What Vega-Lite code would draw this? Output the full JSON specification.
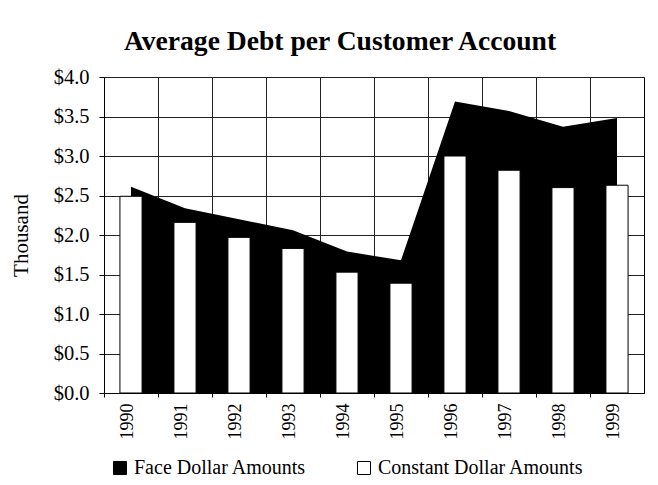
{
  "$schema": "https://vega.github.io/schema/vega-lite/v6.json",
  "autosize": {"type": "none"},
  "padding": {"left": 104, "top": 77, "right": 14, "bottom": 92},
  "width": 540,
  "height": 316,
  "background": "white",
  "title": {
    "text": "Average Debt per Customer Account",
    "font": "Liberation Serif",
    "fontSize": 27.6,
    "fontWeight": "bold",
    "color": "black",
    "anchor": "middle",
    "frame": "group",
    "dx": -34,
    "offset": 11
  },
  "data": {
    "values": [
      {"year": "1990", "series": "Face Dollar Amounts", "value": 2.61},
      {"year": "1991", "series": "Face Dollar Amounts", "value": 2.34},
      {"year": "1992", "series": "Face Dollar Amounts", "value": 2.20},
      {"year": "1993", "series": "Face Dollar Amounts", "value": 2.06},
      {"year": "1994", "series": "Face Dollar Amounts", "value": 1.79},
      {"year": "1995", "series": "Face Dollar Amounts", "value": 1.68},
      {"year": "1996", "series": "Face Dollar Amounts", "value": 3.69},
      {"year": "1997", "series": "Face Dollar Amounts", "value": 3.57},
      {"year": "1998", "series": "Face Dollar Amounts", "value": 3.37},
      {"year": "1999", "series": "Face Dollar Amounts", "value": 3.48},
      {"year": "1990", "series": "Constant Dollar Amounts", "value": 2.49},
      {"year": "1991", "series": "Constant Dollar Amounts", "value": 2.16},
      {"year": "1992", "series": "Constant Dollar Amounts", "value": 1.97},
      {"year": "1993", "series": "Constant Dollar Amounts", "value": 1.83},
      {"year": "1994", "series": "Constant Dollar Amounts", "value": 1.53},
      {"year": "1995", "series": "Constant Dollar Amounts", "value": 1.39},
      {"year": "1996", "series": "Constant Dollar Amounts", "value": 3.00},
      {"year": "1997", "series": "Constant Dollar Amounts", "value": 2.82},
      {"year": "1998", "series": "Constant Dollar Amounts", "value": 2.60},
      {"year": "1999", "series": "Constant Dollar Amounts", "value": 2.63}
    ]
  },
  "encoding": {
    "x": {
      "field": "year",
      "type": "ordinal",
      "scale": {"paddingInner": 0, "paddingOuter": 0},
      "axis": {
        "title": null,
        "bandPosition": 0,
        "labelOffset": -3,
        "labelAngle": 270,
        "labelFont": "Liberation Serif",
        "labelFontSize": 18,
        "labelColor": "black",
        "labelPadding": 6,
        "tickSize": 4,
        "tickColor": "black",
        "domainColor": "black",
        "grid": true,
        "gridColor": "#222",
        "gridWidth": 1
      }
    },
    "y": {
      "field": "value",
      "type": "quantitative",
      "scale": {"domain": [0, 4], "nice": false},
      "axis": {
        "title": "Thousand",
        "titleFont": "Liberation Serif",
        "titleFontSize": 21,
        "titleFontWeight": "normal",
        "titleColor": "black",
        "titlePadding": 22,
        "values": [0, 0.5, 1, 1.5, 2, 2.5, 3, 3.5, 4],
        "format": "$.1f",
        "labelFont": "Liberation Serif",
        "labelFontSize": 20.5,
        "labelColor": "black",
        "labelPadding": 10,
        "tickSize": 5,
        "tickColor": "black",
        "domainColor": "black",
        "grid": true,
        "gridColor": "#222",
        "gridWidth": 1
      }
    },
    "color": {
      "field": "series",
      "type": "nominal",
      "scale": {"domain": ["Face Dollar Amounts", "Constant Dollar Amounts"], "range": ["black", "white"]},
      "legend": {
        "title": null,
        "orient": "bottom",
        "direction": "horizontal",
        "symbolType": "square",
        "symbolSize": 170,
        "symbolStrokeColor": "black",
        "symbolStrokeWidth": 1,
        "labelFont": "Liberation Serif",
        "labelFontSize": 20,
        "labelColor": "black",
        "labelLimit": 400,
        "columnPadding": 47,
        "padding": 6,
        "offset": 13
      }
    }
  },
  "layer": [
    {
      "transform": [{"filter": "datum.series === 'Face Dollar Amounts'"}],
      "mark": {"type": "area", "interpolate": "linear"},
      "encoding": {
        "x": {"field": "year", "type": "ordinal", "bandPosition": 0.5}
      }
    },
    {
      "transform": [{"filter": "datum.series === 'Constant Dollar Amounts'"}],
      "mark": {"type": "bar", "width": {"band": 0.41}, "stroke": "black", "strokeWidth": 1}
    }
  ],
  "config": {
    "view": {"stroke": "black", "strokeWidth": 1}
  }
}
